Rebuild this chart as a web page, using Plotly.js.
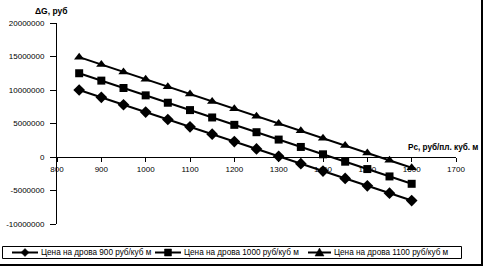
<!DOCTYPE html>
<html>
<head>
<meta charset="utf-8">
<script src="https://cdn.plot.ly/plotly-3.0.1.min.js"></script>
<style>
html,body{margin:0;padding:0;background:#fff;}
#wrap{width:481px;height:264px;border-right:2px solid #000;border-bottom:2px solid #000;overflow:hidden;position:relative;}
#chart{width:481px;height:264px;}
</style>
</head>
<body>
<div id="wrap"><div id="chart"></div></div>
<script>
// Data
const pcPrices = [850, 900, 950, 1000, 1050, 1100, 1150, 1200, 1250, 1300, 1350, 1400, 1450, 1500, 1550, 1600];
const dg900  = [10000000, 8900000, 7800000, 6700000, 5600000, 4500000, 3400000, 2300000, 1200000, 100000, -1000000, -2100000, -3200000, -4300000, -5400000, -6500000];
const dg1000 = [12500000, 11400000, 10300000, 9200000, 8100000, 7000000, 5900000, 4800000, 3700000, 2600000, 1500000, 400000, -700000, -1800000, -2900000, -4000000];
const dg1100 = [14900000, 13800000, 12700000, 11600000, 10500000, 9400000, 8300000, 7200000, 6100000, 5000000, 3900000, 2800000, 1700000, 600000, -500000, -1600000];
const seriesNames = ["Цена на дрова 900 руб/куб м", "Цена на дрова 1000 руб/куб м", "Цена на дрова 1100 руб/куб м"];
const yTickVals = [-10000000, -5000000, 0, 5000000, 10000000, 15000000, 20000000];
const yTickText = ["-10000000", "-5000000", "0", "5000000", "10000000", "15000000", "20000000"];
const xTickVals = [800, 900, 1000, 1100, 1200, 1300, 1400, 1500, 1600, 1700];
const yTitle = "ΔG, руб";
const xTitle = "Рс, руб/пл. куб. м";

const FONT = "Liberation Sans, Arial, sans-serif";
const W = 481, H = 264;
const M = {l: 57, r: 25, t: 23, b: 40};
const PW = W - M.l - M.r, PH = H - M.t - M.b;
// pixel -> paper helpers (for the hand-drawn legend box)
const PX = x => (x - M.l) / PW;
const PY = y => (H - M.b - y) / PH;

const symbols = ["diamond", "square", "triangle-up"];
const mk = (name, y, symbol, size) => ({
  type: "scatter", mode: "lines+markers", name: name, x: pcPrices, y: y,
  line: {color: "#000", width: 2},
  marker: {symbol: symbol, size: size, color: "#000"},
  cliponaxis: false, showlegend: false
});
const data = [
  mk(seriesNames[0], dg900, symbols[0], 9),
  mk(seriesNames[1], dg1000, symbols[1], 8),
  mk(seriesNames[2], dg1100, symbols[2], 9)
];

// Legend drawn as shapes + annotations (Excel-style single row box)
const legY = 252.5;
const legItems = [
  {l0: 12, l1: 38, tx: 40},
  {l0: 155, l1: 181, tx: 183},
  {l0: 308, l1: 331, tx: 333}
];
function markerPath(sym, cx, cy) {
  let pts;
  if (sym === "diamond") pts = [[cx - 4, cy], [cx, cy - 4], [cx + 4, cy], [cx, cy + 4]];
  else if (sym === "square") pts = [[cx - 3.5, cy - 3.5], [cx + 3.5, cy - 3.5], [cx + 3.5, cy + 3.5], [cx - 3.5, cy + 3.5]];
  else pts = [[cx, cy - 4.5], [cx + 4.5, cy + 3.5], [cx - 4.5, cy + 3.5]];
  return "M" + pts.map(p => PX(p[0]) + "," + PY(p[1])).join("L") + "Z";
}
const shapes = [{
  type: "rect", xref: "paper", yref: "paper",
  x0: PX(2.5), x1: PX(461.5), y0: PY(246.5), y1: PY(258.5),
  line: {color: "#000", width: 1}, fillcolor: "#fff", layer: "above"
}];
const annotations = [{
  text: "<b>" + xTitle + "</b>", xref: "paper", yref: "paper",
  x: PX(406), y: PY(147), xanchor: "left", yanchor: "middle",
  showarrow: false, font: {size: 8.2, family: FONT, color: "#000"}
}];
legItems.forEach((it, i) => {
  shapes.push({type: "line", xref: "paper", yref: "paper", x0: PX(it.l0), x1: PX(it.l1), y0: PY(legY), y1: PY(legY), line: {color: "#000", width: 2}, layer: "above"});
  shapes.push({type: "path", xref: "paper", yref: "paper", path: markerPath(symbols[i], (it.l0 + it.l1) / 2, legY), fillcolor: "#000", line: {color: "#000", width: 0.5}, layer: "above"});
  annotations.push({text: seriesNames[i], xref: "paper", yref: "paper", x: PX(it.tx), y: PY(legY), xanchor: "left", yanchor: "middle", showarrow: false, font: {size: 8.2, family: FONT, color: "#000"}, borderpad: 0});
});

const layout = {
  width: W, height: H,
  margin: {l: M.l, r: M.r, t: M.t, b: M.b, pad: 0, autoexpand: false},
  paper_bgcolor: "#fff", plot_bgcolor: "#fff",
  font: {family: FONT, size: 8, color: "#000"},
  showlegend: false,
  title: {text: "<b>" + yTitle + "</b>", xref: "container", yref: "container", x: 35 / W, xanchor: "left", y: 1 - 11 / H, yanchor: "middle", font: {size: 8.5, family: FONT, color: "#000"}},
  xaxis: {
    range: [800, 1700], tickvals: xTickVals, anchor: "free", position: 1 / 3,
    showline: true, linecolor: "#000", linewidth: 1,
    ticks: "outside", ticklen: 4, tickcolor: "#000",
    showgrid: false, zeroline: false, tickfont: {size: 8}
  },
  yaxis: {
    range: [-10000000, 20000000], tickvals: yTickVals, ticktext: yTickText,
    showline: true, linecolor: "#000", linewidth: 1,
    ticks: "outside", ticklen: 6, tickcolor: "#000", ticklabelstandoff: 4,
    showgrid: false, zeroline: false, tickfont: {size: 8}
  },
  shapes: shapes,
  annotations: annotations
};
Plotly.newPlot("chart", data, layout, {staticPlot: true, displayModeBar: false});
</script>
</body>
</html>
